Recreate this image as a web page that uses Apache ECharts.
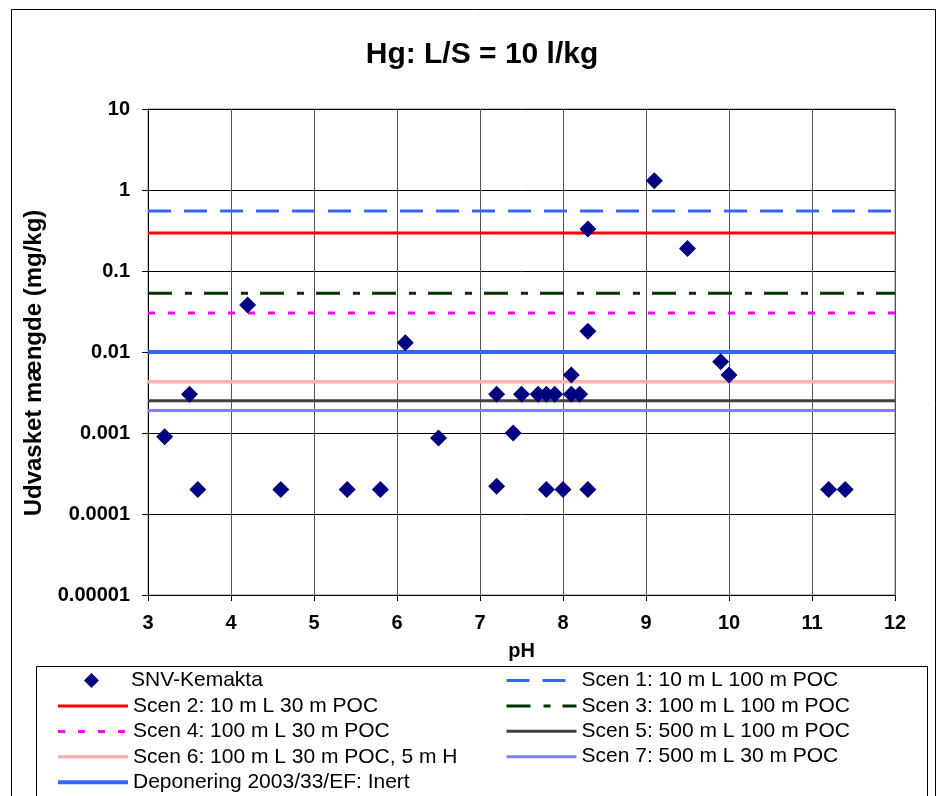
<!DOCTYPE html>
<html>
<head>
<meta charset="utf-8">
<title>Hg: L/S = 10 l/kg</title>
<script src="https://cdn.jsdelivr.net/npm/echarts@6/dist/echarts.min.js"></script>
<style>
  html, body { margin: 0; padding: 0; background: #fff; }
  #chart { width: 952px; height: 796px; }
</style>
</head>
<body>
<div id="chart"></div>
<script>
// SNV-Kemakta målepunkter (pH, udvasket mængde mg/kg)
var phValues    = [3.2, 3.5, 3.6, 4.2, 4.6, 5.4, 5.8, 6.1, 6.5, 7.2, 7.2, 7.4, 7.5, 7.7, 7.8, 7.9, 7.8, 8.0, 8.1, 8.1, 8.2, 8.3, 8.3, 8.3, 9.1, 9.5, 9.9, 10.0, 11.2, 11.4];
var leachValues = [0.0009, 0.003, 0.0002, 0.038, 0.0002, 0.0002, 0.0002, 0.013, 0.00087, 0.003, 0.00022, 0.001, 0.003, 0.003, 0.003, 0.003, 0.0002, 0.0002, 0.0052, 0.003, 0.003, 0.33, 0.018, 0.0002, 1.3, 0.19, 0.0076, 0.0052, 0.0002, 0.0002];

// scenarie-grænser (vandrette linjer)
var limitNames  = ['Scen 1: 10 m L 100 m POC', 'Scen 2: 10 m L 30 m POC', 'Scen 3: 100 m L 100 m POC', 'Scen 4: 100 m L 30 m POC',
                   'Scen 5: 500 m L 100 m POC', 'Scen 6: 100 m L 30 m POC, 5 m H', 'Scen 7: 500 m L 30 m POC', 'Deponering 2003/33/EF: Inert'];
var limitValues = [0.55, 0.295, 0.053, 0.0304, 0.0025, 0.0043, 0.0019, 0.01];

var xRange = [3, 12];
var yTickLabels = ['0.00001', '0.0001', '0.001', '0.01', '0.1', '1', '10'];

// linjestil pr. scenarie
var limitColors = ['#3366ff', '#ff0000', '#003300', '#ff00ff', '#404040', '#ffb0b0', '#8080ff', '#3366ff'];
var limitTypes  = [[23, 13], 'solid', [24, 13, 7, 12], [7, 13], 'solid', 'solid', 'solid', 'solid'];
var limitWidths = [3, 3, 3, 3, 3, 3.5, 3, 4];

var myChart = echarts.init(document.getElementById('chart'));
var fontName = 'Liberation Sans, Arial, sans-serif';

var series = [];
for (var i = 0; i < limitNames.length; i++) {
    series.push({
        name: limitNames[i],
        type: 'line',
        symbol: 'none',
        silent: true,
        data: [[xRange[0], limitValues[i]], [xRange[1], limitValues[i]]],
        lineStyle: {color: limitColors[i], type: limitTypes[i], width: limitWidths[i]},
        itemStyle: {color: limitColors[i]},
        z: 2
    });
}
var points = [];
for (var j = 0; j < phValues.length; j++) {
    points.push([phValues[j], leachValues[j]]);
}
series.push({
    name: 'SNV-Kemakta',
    type: 'scatter',
    symbol: 'diamond',
    symbolSize: 17,
    itemStyle: {color: '#000080', opacity: 1},
    data: points,
    z: 5
});

var legendText = {fontFamily: fontName, fontSize: 21, color: '#000', lineHeight: 21};

// linje-ikoner uden symbol i midten
function lineItems(idx) {
    return idx.map(function (k) {
        return {name: limitNames[k], itemStyle: {opacity: 0}};
    });
}

var option = {
    animation: false,
    backgroundColor: '#fff',
    title: {
        text: 'Hg: L/S = 10 l/kg',
        left: 477,
        top: 35,
        textAlign: 'center',
        textStyle: {fontFamily: fontName, fontSize: 30, fontWeight: 'bold', color: '#000'}
    },
    grid: {
        left: 148, right: 57, top: 109, bottom: 201,
        show: true, borderColor: '#888', borderWidth: 1, backgroundColor: '#fff'
    },
    legend: [{
        orient: 'vertical',
        left: 84, top: 670,
        padding: 0,
        itemWidth: 15, itemHeight: 15,
        textStyle: {fontFamily: fontName, fontSize: 21, color: '#000', lineHeight: 21, padding: [0, 0, 0, 27]},
        selectedMode: false,
        data: [{name: 'SNV-Kemakta', icon: 'diamond'}]
    }, {
        orient: 'vertical',
        left: 56, top: 695.5,
        padding: 0,
        itemWidth: 70, itemHeight: 14, itemGap: 4.4,
        textStyle: legendText,
        lineStyle: {width: 'inherit'},
        selectedMode: false,
        data: lineItems([1, 3, 5, 7])
    }, {
        orient: 'vertical',
        left: 505, top: 670,
        padding: 0,
        itemWidth: 70, itemHeight: 14, itemGap: 4.4,
        textStyle: legendText,
        lineStyle: {width: 'inherit'},
        selectedMode: false,
        data: lineItems([0, 2, 4, 6])
    }],
    xAxis: {
        type: 'value',
        min: xRange[0], max: xRange[1], interval: 1,
        name: 'pH',
        nameLocation: 'middle',
        nameGap: 46,
        nameTextStyle: {fontFamily: fontName, fontSize: 20, fontWeight: 'bold', color: '#000'},
        axisLine: {lineStyle: {color: '#000', width: 1}},
        axisTick: {length: 6, lineStyle: {color: '#000'}},
        axisLabel: {fontFamily: fontName, fontSize: 20, fontWeight: 'bold', color: '#000', margin: 18},
        splitLine: {show: true, lineStyle: {color: '#555', width: 1}}
    },
    yAxis: {
        type: 'log',
        logBase: 10,
        min: 0.00001, max: 10,
        name: 'Udvasket mængde (mg/kg)',
        nameLocation: 'middle',
        nameGap: 98,
        nameRotate: 90,
        nameTextStyle: {fontFamily: fontName, fontSize: 24, fontWeight: 'bold', color: '#000', padding: [0, 22, 0, 0]},
        axisLine: {show: true, lineStyle: {color: '#000', width: 1}},
        axisTick: {show: true, length: 6, lineStyle: {color: '#000'}},
        axisLabel: {
            fontFamily: fontName, fontSize: 20, fontWeight: 'bold', color: '#000', margin: 18,
            formatter: function (v) {
                var k = Math.round(Math.log(v) / Math.LN10) + 5;
                return yTickLabels[k] || '';
            }
        },
        splitLine: {show: true, lineStyle: {color: '#000', width: 1}}
    },
    graphic: [{
        type: 'rect',
        silent: true,
        shape: {x: 11.5, y: 9.5, width: 924, height: 820},
        style: {fill: 'none', stroke: '#000', lineWidth: 1},
        z: -1
    }, {
        type: 'rect',
        silent: true,
        shape: {x: 36.5, y: 666.5, width: 891, height: 160},
        style: {fill: 'none', stroke: '#000', lineWidth: 1},
        z: -1
    }],
    series: series
};
myChart.setOption(option);
</script>
</body>
</html>
